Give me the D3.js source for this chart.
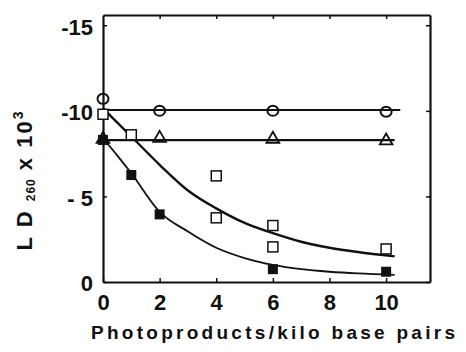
<!DOCTYPE html>
<html>
<head>
<meta charset="utf-8">
<script src="https://cdn.jsdelivr.net/npm/d3@7"></script>
<style>
  body { margin: 0; background: #fff; }
  svg text { font-family: "Liberation Sans", Arial, sans-serif; font-weight: bold; fill: #111; }
</style>
</head>
<body>
<div id="chart"></div>
<script>
// values (x = photoproducts/kbp, y = -LD260 x 10^3)
var xTicks = [0, 2, 4, 6, 8, 10];
var yTicks = [0, 5, 10, 15];
var yTickLabels = ['0', '- 5', '-10', '-15'];

var openCircles = [[0, 10.7], [2, 10.0], [6, 10.0], [10, 9.95]];
var triangles = [[0, 8.35], [2, 8.4], [6, 8.35], [10, 8.25]];
var openSquares = [[0, 9.8], [1, 8.6], [4, 6.2], [4, 3.75], [6, 3.3], [6, 2.05], [10, 1.93]];
var filledSquares = [[0, 8.3], [1, 6.25], [2, 3.95], [6, 0.75], [10, 0.6]];

var circleLine = [[0, 10.05], [10.5, 10.05]];
var triangleLine = [[0, 8.29], [10.3, 8.29]];
var upperCurve = [[0, 10.15], [1, 8.5], [2, 6.85], [3, 5.35], [4, 4.3], [5, 3.45], [6, 2.85],
                  [7, 2.35], [8, 2.0], [9, 1.75], [10.3, 1.5]];
var lowerCurve = [[0, 8.4], [0.5, 7.4], [1, 6.35], [2, 4.1], [3, 2.95], [4, 2.0], [5, 1.4],
                  [6, 1.0], [7, 0.75], [8, 0.6], [9, 0.5], [10.3, 0.42]];

var width = 466, height = 352;
var svg = d3.select('#chart').append('svg').attr('width', width).attr('height', height);

var x = d3.scaleLinear().domain([0, 11.55]).range([103, 430]);
var y = d3.scaleLinear().domain([0, 15.6]).range([282, 15]);

// frame + inward ticks
var axisStyle = function (g) {
  g.select('.domain').attr('stroke', '#111').attr('stroke-width', 2.2);
  g.selectAll('.tick line').attr('stroke', '#111').attr('stroke-width', 1.5);
  g.selectAll('.tick text').style('font-size', '22px').attr('fill', '#111');
};

svg.append('g').attr('transform', 'translate(0,' + y(0) + ')')
  .call(d3.axisBottom(x).tickValues(xTicks).tickSize(-4).tickSizeOuter(0).tickPadding(11))
  .call(axisStyle)
  .call(function (g) { g.selectAll('.tick text').attr('dy', '0.75em'); });

svg.append('g').attr('transform', 'translate(0,' + y.range()[1] + ')')
  .call(d3.axisTop(x).tickValues(xTicks.slice(1)).tickSize(-4).tickSizeOuter(0).tickFormat(''))
  .call(axisStyle);

svg.append('g').attr('transform', 'translate(' + x(0) + ',0)')
  .call(d3.axisLeft(y).tickValues(yTicks).tickSize(-4).tickSizeOuter(0).tickPadding(10)
    .tickFormat(function (d, i) { return yTickLabels[i]; }))
  .call(axisStyle)
  .call(function (g) { g.selectAll('.tick text').attr('dy', '0.4em'); });

svg.append('g').attr('transform', 'translate(' + x.range()[1] + ',0)')
  .call(d3.axisRight(y).tickValues(yTicks).tickSize(-4).tickSizeOuter(0).tickFormat(''))
  .call(axisStyle);

// lines
var line = d3.line().x(function (d) { return x(d[0]); }).y(function (d) { return y(d[1]); });
var smooth = d3.line().curve(d3.curveMonotoneX).x(function (d) { return x(d[0]); }).y(function (d) { return y(d[1]); });

svg.append('path').datum(circleLine).attr('d', line).attr('fill', 'none').attr('stroke', '#111').attr('stroke-width', 2);
svg.append('path').datum(triangleLine).attr('d', line).attr('fill', 'none').attr('stroke', '#111').attr('stroke-width', 2.2);
svg.append('path').datum(upperCurve).attr('d', smooth).attr('fill', 'none').attr('stroke', '#111').attr('stroke-width', 2.4);
svg.append('path').datum(lowerCurve).attr('d', smooth).attr('fill', 'none').attr('stroke', '#111').attr('stroke-width', 1.8);

// markers
svg.selectAll('.osq').data(openSquares).enter().append('rect')
  .attr('x', function (d) { return x(d[0]) - 5; })
  .attr('y', function (d) { return y(d[1]) - 5; })
  .attr('width', 10).attr('height', 10)
  .attr('fill', '#fff').attr('stroke', '#111').attr('stroke-width', 1.5);

svg.selectAll('.ocirc').data(openCircles).enter().append('ellipse')
  .attr('cx', function (d) { return x(d[0]); })
  .attr('cy', function (d) { return y(d[1]); })
  .attr('rx', 5.5).attr('ry', 5)
  .attr('fill', 'none').attr('stroke', '#111').attr('stroke-width', 2);

var tri = d3.symbol().type(d3.symbolTriangle).size(70);
svg.selectAll('.tri').data(triangles).enter().append('path')
  .attr('d', tri)
  .attr('transform', function (d) { return 'translate(' + x(d[0]) + ',' + y(d[1]) + ')'; })
  .attr('fill', 'none').attr('stroke', '#111').attr('stroke-width', 1.8);

svg.selectAll('.fsq').data(filledSquares).enter().append('rect')
  .attr('x', function (d) { return x(d[0]) - 5; })
  .attr('y', function (d) { return y(d[1]) - 5; })
  .attr('width', 10).attr('height', 10)
  .attr('fill', '#111');

// axis titles
svg.append('text')
  .attr('x', 91).attr('y', 339)
  .attr('textLength', 364).attr('lengthAdjust', 'spacing')
  .style('font-size', '19px')
  .text('Photoproducts/kilo base pairs');

var yt = svg.append('text')
  .attr('transform', 'translate(32,180) rotate(-90)')
  .attr('text-anchor', 'middle')
  .style('font-size', '22px')
  .style('letter-spacing', '2px');
yt.append('tspan').text('L D ');
yt.append('tspan').style('font-size', '12px').style('letter-spacing', '1px').attr('dy', 3).text('260');
yt.append('tspan').attr('dy', -3).text(' x 10');
yt.append('tspan').style('font-size', '14px').attr('dy', -9).text('3');
</script>
</body>
</html>
